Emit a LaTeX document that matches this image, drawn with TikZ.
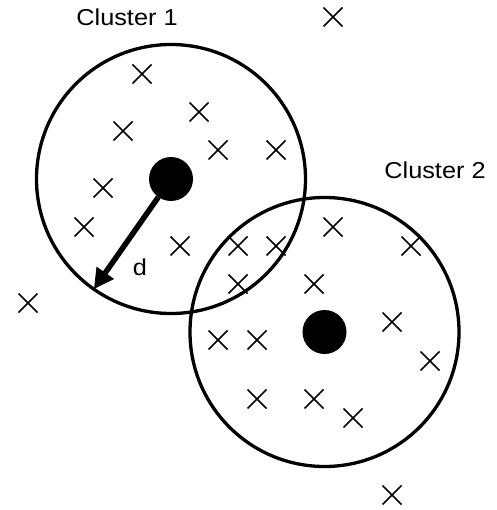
\documentclass[tikz,border=0pt]{standalone}
\usepackage{fontspec}
\setmainfont{Liberation Sans}
\usetikzlibrary{shapes.misc,arrows.meta}
\tikzset{
  cluster/.style={circle,draw,line width=3.3pt,minimum size=269pt,inner sep=0pt,outer sep=0pt},
  centroid/.style={circle,fill=black,minimum size=44pt,inner sep=0pt,outer sep=0pt},
  pt/.style={cross out,draw,line width=1.7pt,minimum size=19pt,inner sep=0pt,outer sep=0pt},
  lbl/.style={font=\fontsize{23}{26}\selectfont,inner sep=0pt},
  radius arrow/.style={line width=5.5pt,-{Triangle[length=20pt,width=20pt]}}
}
\begin{document}
\begin{tikzpicture}[x=1pt,y=-1pt]
\useasboundingbox (0,0) rectangle (496,510);
% the two clusters and their centres
\node[cluster] (c1) at (171,179) {};
\node[cluster] (c2) at (324.5,332) {};
\node[centroid] (m1) at (171,179) {};
\node[centroid] (m2) at (324.5,332) {};
% cluster labels
\node[lbl] (l1) at (127,17.5) {\scalebox{1.1}[1]{Cluster 1}};
\node[lbl] (l2) at (435,170) {\scalebox{1.1}[1]{Cluster 2}};
% radius d of cluster 1
\draw[radius arrow] (m1) -- (c1.235.6);
\node[lbl] (d) at (140,267) {\scalebox{1.1}[1]{d}};
% data points
\foreach \n/\p in {
  p1/{(142,74)}, p2/{(333,17)}, p3/{(123,131)}, p4/{(199,112)},
  p5/{(218,150)}, p6/{(276,150)}, p7/{(103,188)}, p8/{(84,227)},
  p9/{(180,246)}, p10/{(238,246)}, p11/{(276,246)}, p12/{(333,227)},
  p13/{(411,246)}, p14/{(238,284)}, p15/{(314,284)}, p16/{(28,303)},
  p17/{(392,322)}, p18/{(218,340)}, p19/{(257,340)}, p20/{(430,361)},
  p21/{(257,399)}, p22/{(314,399)}, p23/{(353,418)}, p24/{(392,495)}}
  \node[pt] (\n) at \p {};
\end{tikzpicture}
\end{document}
